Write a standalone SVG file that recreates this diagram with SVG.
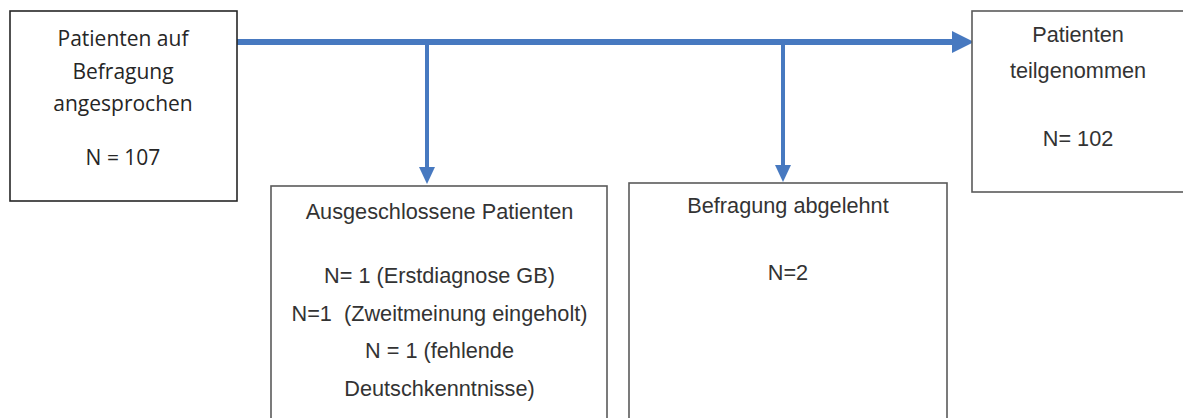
<svg xmlns="http://www.w3.org/2000/svg" width="1183" height="418" viewBox="0 0 1183 418">
<style>
.box{fill:#fff;stroke:#5a5a5a;stroke-width:1.6}
.box1{fill:#fff;stroke:#262626;stroke-width:1.6}
.cal{font-family:"Open Sans","Noto Sans",sans-serif;font-size:21px;fill:#262626;text-anchor:middle}
.ari{font-family:"Liberation Sans",Arial,sans-serif;font-size:21.7px;fill:#333;text-anchor:middle}
.conn{stroke:#4779C0;fill:none}
.head{fill:#4779C0}
</style>
<rect width="1183" height="418" fill="#fff"/>
<g id="connectors">
<line class="conn" x1="237" y1="42" x2="954" y2="42" stroke-width="6"/>
<polygon class="head" points="952,31 974,42 952,53"/>
<line class="conn" x1="427" y1="42" x2="427" y2="169" stroke-width="4"/>
<polygon class="head" points="419,167 435,167 427,184"/>
<line class="conn" x1="783" y1="42" x2="783" y2="167" stroke-width="4"/>
<polygon class="head" points="775,165 791,165 783,182"/>
</g>
<g id="n_start">
<rect class="box1" x="10" y="11" width="227" height="190"/>
<text class="cal" x="123" y="46">Patienten auf</text>
<text class="cal" x="123" y="79">Befragung</text>
<text class="cal" x="123" y="111">angesprochen</text>
<text class="cal" x="123" y="165">N = 107</text>
</g>
<g id="n_teil">
<rect class="box" x="972" y="11" width="215" height="181"/>
<text class="ari" x="1078" y="42">Patienten</text>
<text class="ari" x="1078" y="78">teilgenommen</text>
<text class="ari" x="1078" y="146">N= 102</text>
</g>
<g id="n_aus">
<rect class="box" x="271" y="186" width="336" height="240"/>
<text class="ari" x="439.5" y="219">Ausgeschlossene Patienten</text>
<text class="ari" x="439.5" y="283">N= 1 (Erstdiagnose GB)</text>
<text class="ari" x="439.5" y="321" xml:space="preserve">N=1  (Zweitmeinung eingeholt)</text>
<text class="ari" x="439.5" y="358">N = 1 (fehlende</text>
<text class="ari" x="439.5" y="396">Deutschkenntnisse)</text>
</g>
<g id="n_abg">
<rect class="box" x="629" y="183" width="318" height="243"/>
<text class="ari" x="788" y="213">Befragung abgelehnt</text>
<text class="ari" x="788" y="280">N=2</text>
</g>
</svg>
